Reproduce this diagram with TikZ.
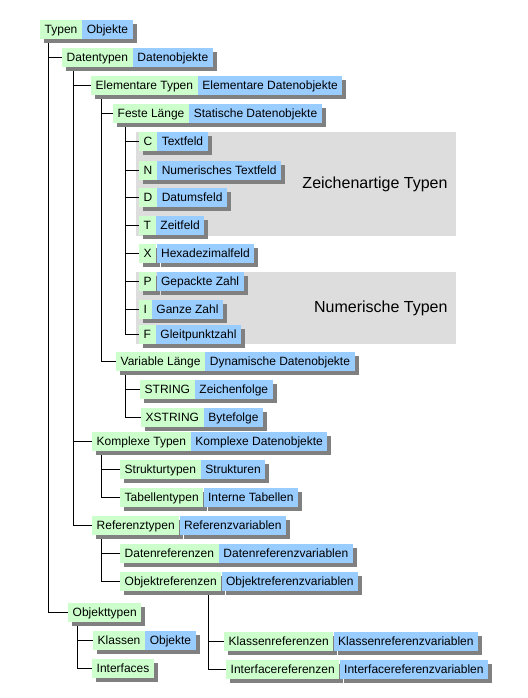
\documentclass[tikz,border=0pt]{standalone}
\usepackage{fontspec}
\setmainfont{Liberation Sans}
\usetikzlibrary{shadows}
\pgfdeclarelayer{background}
\pgfsetlayers{background,main}

\definecolor{typgruen}{RGB}{204,255,204}
\definecolor{objblau}{RGB}{153,204,255}
\definecolor{schatten}{RGB}{128,128,128}
\definecolor{gruppe}{RGB}{221,221,221}

\begin{document}
\begin{tikzpicture}[
    x=1pt, y=-1pt,
    % Styles
    box/.style={minimum height=19pt, inner xsep=4.5pt, inner ysep=0pt,
                text height=10pt, text depth=1.5pt, font=\fontsize{12}{14}\selectfont,
                drop shadow={shadow xshift=4pt, shadow yshift=-4pt, fill=schatten, opacity=1}},
    typ/.style={box, fill=typgruen, anchor=north west},   % type name
    obj/.style={box, fill=objblau, anchor=west},          % data object name
    ast/.style={line width=1pt, black},                   % tree connector
    gruppentext/.style={font=\fontsize{16}{19}\selectfont, anchor=east}
]
  \useasboundingbox (0,0) rectangle (527,698);

  % Root
  \node[typ] (typen) at (40,20) {Typen};
  \node[obj] (typen-o) at (typen.east) {Objekte};

  % Data types
  \node[typ] (datentypen) at (62,48) {Datentypen};
  \node[obj] (datentypen-o) at (datentypen.east) {Datenobjekte};
  \node[typ] (elementar) at (91,76) {Elementare Typen};
  \node[obj] (elementar-o) at (elementar.east) {Elementare Datenobjekte};
  \node[typ] (feste) at (113,104) {Feste Länge};
  \node[obj] (feste-o) at (feste.east) {Statische Datenobjekte};

  % Built-in types of fixed length
  \foreach \n/\y/\k/\t in {c/132/C/Textfeld, n/161/N/Numerisches Textfeld, d/188/D/Datumsfeld,
                           t/216/T/Zeitfeld, x/244/X/Hexadezimalfeld, p/272/P/Gepackte Zahl,
                           i/300/I/Ganze Zahl, f/325/F/Gleitpunktzahl} {
    \node[typ] (\n) at (139,\y) {\k};
    \node[obj] (\n-o) at (\n.east) {\t};
  }

  % Variable length
  \node[typ] (variabel) at (116,352) {Variable Länge};
  \node[obj] (variabel-o) at (variabel.east) {Dynamische Datenobjekte};
  \node[typ] (string) at (140,380) {STRING};
  \node[obj] (string-o) at (string.east) {Zeichenfolge};
  \node[typ] (xstring) at (141,408) {XSTRING};
  \node[obj] (xstring-o) at (xstring.east) {Bytefolge};

  % Complex types
  \node[typ] (komplex) at (92,432) {Komplexe Typen};
  \node[obj] (komplex-o) at (komplex.east) {Komplexe Datenobjekte};
  \node[typ] (struktur) at (120,460) {Strukturtypen};
  \node[obj] (struktur-o) at (struktur.east) {Strukturen};
  \node[typ] (tabellen) at (120,488) {Tabellentypen};
  \node[obj] (tabellen-o) at (tabellen.east) {Interne Tabellen};

  % Reference types
  \node[typ] (referenz) at (92,516) {Referenztypen};
  \node[obj] (referenz-o) at (referenz.east) {Referenzvariablen};
  \node[typ] (datenref) at (120,544) {Datenreferenzen};
  \node[obj] (datenref-o) at (datenref.east) {Datenreferenzvariablen};
  \node[typ] (objref) at (120,572) {Objektreferenzen};
  \node[obj] (objref-o) at (objref.east) {Objektreferenzvariablen};
  \node[typ] (klassenref) at (224,632) {Klassenreferenzen};
  \node[obj] (klassenref-o) at (klassenref.east) {Klassenreferenzvariablen};
  \node[typ] (interfaceref) at (226,660) {Interfacereferenzen};
  \node[obj] (interfaceref-o) at (interfaceref.east) {Interfacereferenzvariablen};

  % Object types
  \node[typ] (objekttypen) at (68,603) {Objekttypen};
  \node[typ] (klassen) at (93,631) {Klassen};
  \node[obj] (klassen-o) at (klassen.east) {Objekte};
  \node[typ] (interfaces) at (92,659) {Interfaces};

  \begin{pgfonlayer}{background}
    % Groups
    \fill[gruppe] (136,132) rectangle (456,236);
    \fill[gruppe] (136,272) rectangle (456,344);
    \node[gruppentext] (zeichenartig) at (451,184) {Zeichenartige Typen};
    \node[gruppentext] (numerisch) at (451,308) {Numerische Typen};

    % Tree
    \foreach \von/\dx/\nach in {typen/8/datentypen, typen/8/objekttypen,
        datentypen/11/elementar, datentypen/11/komplex, datentypen/11/referenz,
        elementar/10/feste, elementar/10/variabel,
        feste/12/c, feste/12/n, feste/12/d, feste/12/t, feste/12/x, feste/12/p, feste/12/i, feste/12/f,
        variabel/9/string, variabel/9/xstring,
        komplex/9/struktur, komplex/9/tabellen,
        referenz/9/datenref, referenz/9/objref,
        objref/88/klassenref, objref/88/interfaceref,
        objekttypen/9/klassen, objekttypen/9/interfaces} {
      \draw[ast] ([xshift=\dx pt]\von.south west) |- (\nach.west);
    }
  \end{pgfonlayer}

\end{tikzpicture}
\end{document}
